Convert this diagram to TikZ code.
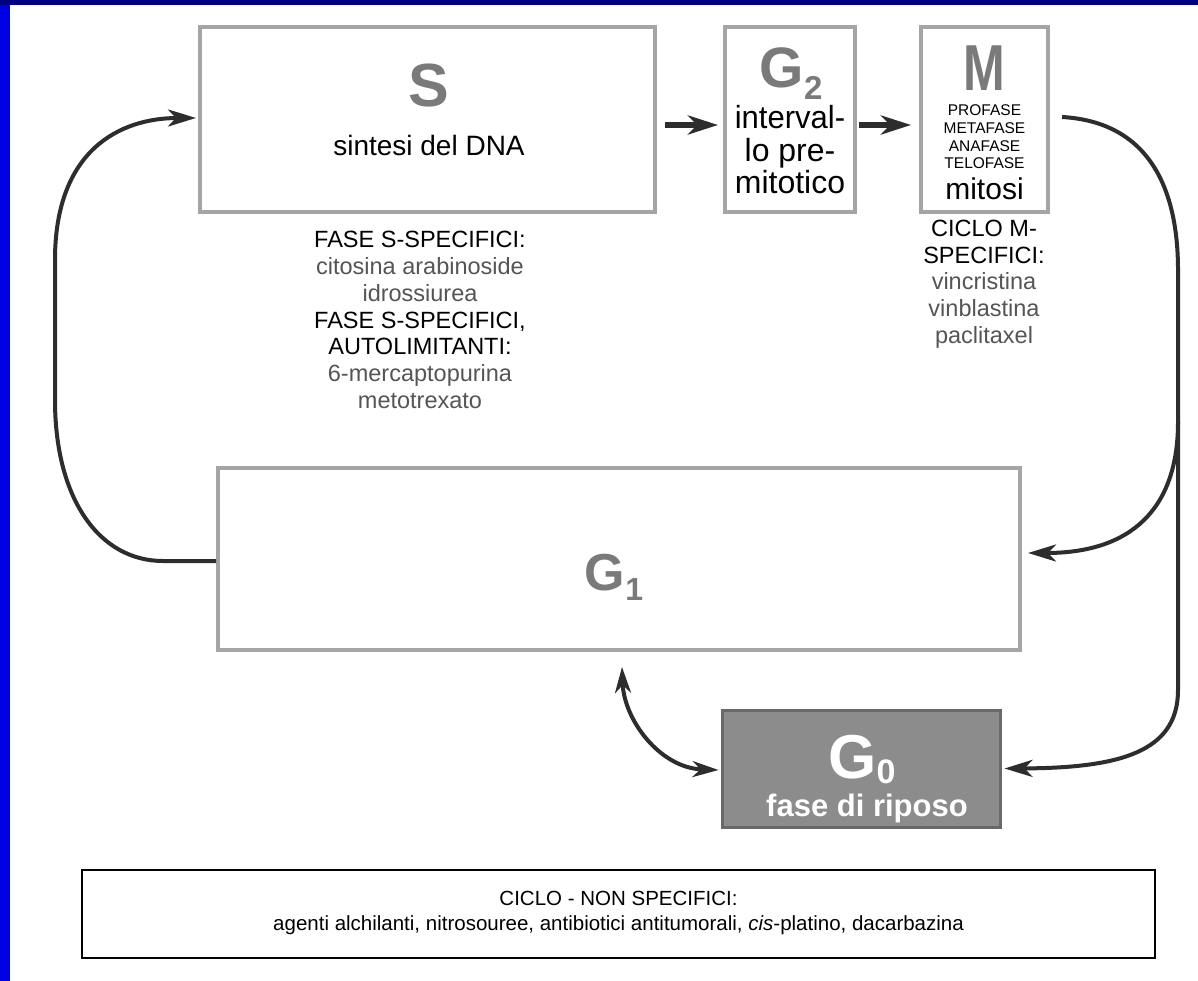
\documentclass[tikz,border=0pt]{standalone}
\usepackage{fontspec}
\setmainfont{Liberation Sans}
\usetikzlibrary{arrows.meta,calc}
\definecolor{slideblue}{RGB}{0,0,228}
\definecolor{slidenavy}{RGB}{0,0,128}
\definecolor{boxgray}{RGB}{165,165,165}
\definecolor{letgray}{RGB}{122,122,122}
\definecolor{druggray}{RGB}{85,85,85}
\definecolor{arrowgray}{RGB}{45,45,45}
\definecolor{gzerofill}{RGB}{140,140,140}
\definecolor{gzeroline}{RGB}{105,105,105}
\newcommand\myfs[2]{\fontsize{#1}{#2}\selectfont}
\tikzset{
  phase/.style={draw=boxgray, line width=4pt, inner sep=0pt, fill=white},
  bigletter/.style={font=\bfseries\myfs{58}{58}, text=letgray, inner sep=0pt, anchor=base},
  label/.style={align=center, inner sep=0pt},
  fatarrow/.style={line width=5.5pt, draw=arrowgray, -{Stealth[length=30pt,width=19pt,inset=9pt]}},
  flowarrow/.style={line width=4pt, draw=arrowgray, -{Stealth[length=28pt,width=17pt,inset=8pt]}},
  botharrow/.style={line width=4pt, draw=arrowgray, {Stealth[length=26pt,width=16pt,inset=8pt]}-{Stealth[length=26pt,width=16pt,inset=8pt]}}
}
\begin{document}
\begin{tikzpicture}[x=1pt,y=-1pt]
\useasboundingbox (0,0) rectangle (1198,981);
\fill[white] (0,0) rectangle (1198,981);
\fill[slideblue] (0,0) rectangle (10,981);
\fill[slidenavy] (0,0) rectangle (1198,5);

% phase boxes
\node[phase, minimum width=455pt, minimum height=185pt] (S) at (427.5,119.5) {};
\node[phase, minimum width=130pt, minimum height=185pt] (G2) at (790,119.5) {};
\node[phase, minimum width=127pt, minimum height=185pt] (M) at (984.5,119.5) {};
\node[phase, minimum width=802pt, minimum height=182pt] (G1) at (619,559) {};
\node[draw=gzeroline, fill=gzerofill, line width=3pt, inner sep=0pt, minimum width=278pt, minimum height=117pt] (G0) at (861,768.5) {};
\node[draw=black, line width=2.5pt, inner sep=0pt, minimum width=1073pt, minimum height=88pt] (NS) at (618.5,914) {};

% S box content
\node[bigletter, font=\bfseries\myfs{61}{61}] (Slet) at (429,107) {S};
\node[label, font=\myfs{28}{30}] (Stxt) at (429,145) {sintesi del DNA};

% G2 box content
\node[bigletter, font=\bfseries\myfs{57}{57}] (G2let) at (791,88) {G\raisebox{-12pt}{\bfseries\myfs{33}{33}2}};
\node[label, font=\myfs{32}{32.5}] (G2txt) at (790,150) {\scalebox{0.97}[1]{interval-}\\lo pre-\\mitotico};

% M box content
\node[bigletter, font=\bfseries\myfs{65}{65}] (Mlet) at (984.5,91) {\scalebox{0.77}[1]{M}};
\node[label, font=\myfs{15.5}{17.7}] (Mphases) at (984.5,137) {PROFASE\\METAFASE\\ANAFASE\\TELOFASE};
\node[label, font=\myfs{30}{30}] (Mtxt) at (984.5,189) {mitosi};

% G1 content
\node[bigletter, font=\bfseries\myfs{52}{52}] (G1let) at (614,590) {G\raisebox{-10pt}{\bfseries\myfs{32}{32}1}};

% G0 content
\node[bigletter, font=\bfseries\myfs{62}{62}, text=white] (G0let) at (862,778) {G\raisebox{-5pt}{\bfseries\myfs{34}{34}0}};
\node[label, font=\bfseries\myfs{31}{31}, text=white] (G0txt) at (867,808) {fase di riposo};

% drug labels
\node[label, font=\myfs{23.5}{26.7}] (Sdrugs) at (420,320) {FASE S-SPECIFICI:\\
\textcolor{druggray}{citosina arabinoside}\\
\textcolor{druggray}{idrossiurea}\\
FASE S-SPECIFICI,\\
AUTOLIMITANTI:\\
\textcolor{druggray}{6-mercaptopurina}\\
\textcolor{druggray}{metotrexato}};
\node[label, font=\myfs{23.5}{26.7}] (Mdrugs) at (984,284) {CICLO M-\\
SPECIFICI:\\
\textcolor{druggray}{vincristina}\\
\textcolor{druggray}{vinblastina}\\
\textcolor{druggray}{paclitaxel}};

% non-specific box text
\node[label, font=\myfs{20.5}{25}] (NStxt) at (618.5,913) {CICLO - NON SPECIFICI:\\
agenti alchilanti, nitrosouree, antibiotici antitumorali, \textit{cis}-platino, dacarbazina};

% straight arrows
\draw[fatarrow] ($(S.east)+(8,5.5)$) -- ($(G2.west)+(-5,5.5)$);
\draw[fatarrow] ($(G2.east)+(2,5.5)$) -- ($(M.west)+(-8,5.5)$);

% left loop G1 -> S
\draw[flowarrow] ($(G1.west)+(0,2)$) -- (163,561) .. controls (100,561) and (55,500) .. (55,400) -- (55,260) .. controls (55,150) and (120,118) .. ($(S.west)+(-2,-1.5)$);

% right loop M -> G0 with branch to G1
\coordinate (branch) at (1178,422);
\draw[flowarrow] ($(M.east)+(12,-2.5)$) .. controls (1150,122) and (1178,190) .. (1178,270) -- (1178,690) .. controls (1178,752) and (1120,768) .. ($(G0.east)+(3,0)$);
\draw[flowarrow] (branch) .. controls (1178,510) and (1130,553) .. ($(G1.east)+(6,-6)$);

% G1 <-> G0
\draw[botharrow] ($(G1.south)+(3,15)$) .. controls (624,720) and (660,768) .. ($(G0.west)+(-2,1.5)$);
\end{tikzpicture}
\end{document}
